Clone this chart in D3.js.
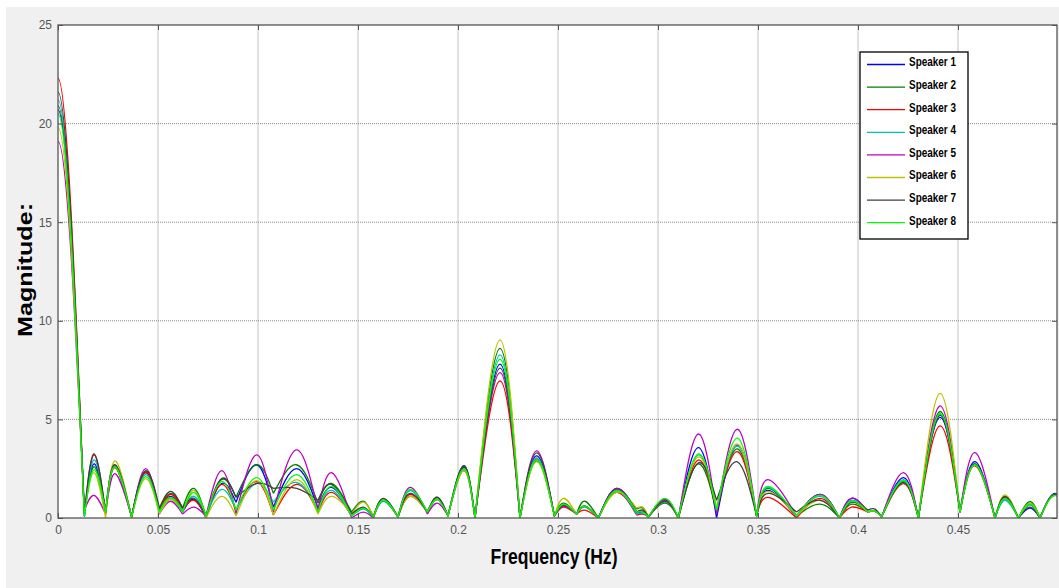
<!DOCTYPE html>
<html>
<head>
<meta charset="utf-8">
<script src="https://cdn.jsdelivr.net/npm/d3@7"></script>
<style>
  body { margin: 0; background: #fff; }
  svg { display: block; }
</style>
</head>
<body>
<div id="chart"></div>
<script>
// frequency points: index 0 = first value, then alternating valley / peak
const freq = [0, 0.0132, 0.018, 0.0238, 0.0285, 0.0368, 0.0438, 0.0507, 0.0563, 0.0623,
  0.068, 0.074, 0.0818, 0.089, 0.0993, 0.1077, 0.1193, 0.13, 0.1368, 0.1468,
  0.1527, 0.1577, 0.1627, 0.170, 0.176, 0.1847, 0.1897, 0.195, 0.203, 0.2085,
  0.221, 0.231, 0.2393, 0.2482, 0.2527, 0.2593, 0.2635, 0.2702, 0.2793, 0.2893,
  0.2925, 0.2952, 0.3035, 0.3102, 0.3202, 0.3293, 0.3397, 0.3493, 0.355, 0.3693,
  0.381, 0.3907, 0.3968, 0.405, 0.4085, 0.4118, 0.4227, 0.4302, 0.441, 0.451,
  0.4585, 0.4685, 0.4735, 0.4802, 0.486, 0.491, 0.4985];

const speaker1 = [20.7, 0.1, 2.75, 0.3, 2.6, 0.05, 2.3, 0.3, 1.1, 0.3,
  0.95, 0.0, 1.75, 0.8, 2.7, 0.55, 2.5, 0.5, 1.55, 0.2,
  0.5, 0.05, 0.95, 0.05, 1.4, 0.3, 0.95, 0.1, 2.55, 0.0,
  7.8, 0.0, 3.15, 0.1, 0.65, 0.2, 0.6, 0.0, 1.5, 0.2,
  0.3, 0.05, 0.9, 0.0, 3.57, 0.0, 3.7, 0.1, 1.4, 0.05,
  1.2, 0.0, 1.0, 0.3, 0.35, 0.05, 2.05, 0.0, 5.1, 0.3,
  2.86, 0.0, 1.0, 0.0, 0.5, 0.0, 1.25];
const speaker2 = [20.9, 0.2, 2.6, 0.3, 2.65, 0.05, 2.35, 0.4, 1.25, 0.5,
  1.5, 0.1, 1.95, 1.05, 2.7, 1.25, 2.7, 0.75, 1.75, 0.3,
  0.85, 0.05, 0.95, 0.05, 1.1, 0.3, 1.05, 0.1, 2.65, 0.0,
  8.6, 0.0, 2.9, 0.1, 0.75, 0.2, 0.85, 0.0, 1.35, 0.45,
  0.5, 0.05, 0.75, 0.0, 2.75, 0.3, 3.5, 0.1, 1.5, 0.1,
  0.7, 0.0, 0.7, 0.3, 0.35, 0.05, 1.85, 0.0, 5.4, 0.3,
  2.7, 0.0, 1.05, 0.0, 0.83, 0.0, 1.15];
const speaker3 = [22.3, 0.1, 3.2, 0.2, 2.55, 0.05, 2.3, 0.3, 1.2, 0.4,
  0.9, 0.1, 1.7, 0.4, 1.85, 0.15, 1.7, 0.3, 1.3, 0.1,
  0.5, 0.05, 0.9, 0.05, 1.2, 0.3, 0.95, 0.1, 2.5, 0.0,
  6.95, 0.0, 3.0, 0.1, 0.55, 0.2, 0.4, 0.0, 1.3, 0.15,
  0.2, 0.05, 0.8, 0.0, 2.94, 0.4, 3.36, 0.1, 1.05, 0.0,
  1.0, 0.0, 0.55, 0.3, 0.35, 0.05, 1.75, 0.0, 4.67, 0.3,
  2.65, 0.0, 1.05, 0.0, 0.7, 0.0, 1.2];
const speaker4 = [21.2, 0.05, 2.95, 0.3, 2.6, 0.05, 2.2, 0.3, 1.0, 0.4,
  1.1, 0.1, 1.45, 0.4, 1.75, 0.8, 1.8, 0.4, 1.4, 0.1,
  0.45, 0.05, 0.85, 0.05, 1.4, 0.3, 0.95, 0.1, 2.5, 0.0,
  8.27, 0.0, 3.05, 0.1, 0.65, 0.2, 0.55, 0.0, 1.35, 0.2,
  0.25, 0.05, 0.8, 0.0, 3.2, 0.4, 3.65, 0.1, 1.55, 0.1,
  1.1, 0.0, 0.9, 0.3, 0.35, 0.05, 1.95, 0.0, 5.25, 0.3,
  2.75, 0.0, 0.9, 0.0, 0.65, 0.0, 1.2];
const speaker5 = [19.1, 0.4, 1.15, 0.2, 2.25, 0.05, 2.5, 0.2, 0.85, 0.2,
  0.55, 0.1, 2.4, 0.2, 3.2, 0.3, 3.45, 0.4, 2.3, 0.0,
  0.3, 0.0, 0.9, 0.05, 1.55, 0.2, 0.75, 0.1, 2.4, 0.0,
  7.37, 0.0, 3.4, 0.1, 0.6, 0.2, 0.6, 0.0, 1.5, 0.3,
  0.35, 0.05, 0.95, 0.0, 4.26, 0.2, 4.5, 0.1, 1.95, 0.1,
  1.2, 0.0, 1.0, 0.3, 0.35, 0.05, 2.3, 0.0, 5.68, 0.3,
  3.31, 0.0, 1.0, 0.0, 0.7, 0.0, 1.2];
const speaker6 = [19.8, 0.2, 2.3, 0.0, 2.9, 0.05, 2.0, 0.2, 0.95, 0.3,
  1.4, 0.0, 1.1, 0.1, 1.9, 0.15, 1.95, 0.2, 1.1, 0.2,
  0.8, 0.05, 0.95, 0.05, 1.1, 0.3, 1.0, 0.1, 2.4, 0.0,
  9.03, 0.0, 2.85, 0.1, 1.0, 0.2, 0.6, 0.0, 1.3, 0.5,
  0.55, 0.05, 0.85, 0.0, 3.1, 0.5, 3.75, 0.1, 1.35, 0.1,
  0.9, 0.0, 0.8, 0.3, 0.35, 0.05, 1.8, 0.0, 6.32, 0.3,
  2.7, 0.0, 1.17, 0.0, 0.75, 0.0, 1.2];
const speaker7 = [21.6, 0.2, 3.25, 0.3, 2.7, 0.05, 2.4, 0.5, 1.35, 0.5,
  1.0, 0.1, 2.0, 1.05, 1.75, 1.5, 1.5, 0.9, 1.7, 0.2,
  0.55, 0.05, 1.0, 0.05, 1.25, 0.3, 1.05, 0.1, 2.65, 0.0,
  7.6, 0.0, 3.3, 0.1, 0.65, 0.2, 0.6, 0.0, 1.45, 0.3,
  0.4, 0.05, 0.85, 0.0, 2.8, 0.9, 2.85, 0.1, 1.25, 0.3,
  0.9, 0.0, 0.8, 0.4, 0.45, 0.05, 1.8, 0.0, 5.2, 0.3,
  2.75, 0.0, 1.1, 0.0, 0.55, 0.0, 1.2];
const speaker8 = [20.5, 0.1, 2.45, 0.3, 2.6, 0.05, 2.1, 0.3, 1.05, 0.3,
  1.3, 0.1, 1.85, 0.4, 2.05, 0.4, 2.2, 0.3, 1.6, 0.1,
  0.5, 0.05, 0.9, 0.05, 1.45, 0.3, 0.95, 0.1, 2.5, 0.0,
  8.05, 0.0, 2.95, 0.1, 0.7, 0.2, 0.6, 0.0, 1.4, 0.3,
  0.3, 0.05, 1.0, 0.0, 3.25, 0.4, 4.05, 0.1, 1.6, 0.1,
  1.15, 0.0, 0.85, 0.3, 0.35, 0.05, 1.9, 0.0, 5.3, 0.3,
  2.7, 0.0, 1.0, 0.0, 0.7, 0.0, 1.15];

const speakerNames = ['Speaker 1', 'Speaker 2', 'Speaker 3', 'Speaker 4',
  'Speaker 5', 'Speaker 6', 'Speaker 7', 'Speaker 8'];
const speakerColors = ['#0000ff', '#007f00', '#ff0000', '#00bfbf',
  '#bf00bf', '#bfbf00', '#404040', '#00ff00'];
const xTicks = [0, 0.05, 0.1, 0.15, 0.2, 0.25, 0.3, 0.35, 0.4, 0.45];
const yTicks = [0, 5, 10, 15, 20, 25];

const series = [speaker1, speaker2, speaker3, speaker4, speaker5, speaker6, speaker7, speaker8];

const width = 1059;
const height = 588;
const plot = { left: 58, right: 1057, top: 25, bottom: 518 };

const svg = d3.select('#chart')
  .append('svg')
  .attr('width', width)
  .attr('height', height);

// figure background
svg.append('rect')
  .attr('x', 6).attr('y', 7)
  .attr('width', width - 6).attr('height', height - 7)
  .attr('fill', '#f0f0f0');

const xScale = d3.scaleLinear().domain([0, 0.4995]).range([plot.left, plot.right]);
const yScale = d3.scaleLinear().domain([0, 25]).range([plot.bottom, plot.top]);

svg.append('rect')
  .attr('x', plot.left).attr('y', plot.top)
  .attr('width', plot.right - plot.left).attr('height', plot.bottom - plot.top)
  .attr('fill', '#fff');

// grid
svg.append('g')
  .selectAll('line')
  .data(xTicks.slice(1))
  .enter()
  .append('line')
  .attr('x1', d => xScale(d)).attr('x2', d => xScale(d))
  .attr('y1', plot.top).attr('y2', plot.bottom)
  .attr('stroke', '#c4c4c4')
  .attr('stroke-width', 1);

svg.append('g')
  .selectAll('line')
  .data(yTicks.slice(1, -1))
  .enter()
  .append('line')
  .attr('x1', plot.left).attr('x2', plot.right)
  .attr('y1', d => yScale(d)).attr('y2', d => yScale(d))
  .attr('stroke', '#8a8a8a')
  .attr('stroke-width', 1)
  .attr('stroke-dasharray', '1,1');

svg.append('clipPath')
  .attr('id', 'plotClip')
  .append('rect')
  .attr('x', plot.left).attr('y', plot.top)
  .attr('width', plot.right - plot.left).attr('height', plot.bottom - plot.top);

// each lobe is drawn valley -> peak -> valley with a natural spline,
// so the valleys keep their sharp corners
const lobe = d3.line()
  .x(d => xScale(d[0]))
  .y(d => yScale(d[1]))
  .curve(d3.curveNatural);

function spectrumPath(vals) {
  let path = '';
  const n = freq.length;
  for (let k = 0; k < n; k += 2) {
    const pts = [];
    if (k > 0) pts.push([freq[k - 1], vals[k - 1]]);
    else pts.push([-freq[1], vals[1]]);
    pts.push([freq[k], vals[k]]);
    if (k < n - 1) pts.push([freq[k + 1], vals[k + 1]]);
    else pts.push([2 * freq[k] - freq[k - 1], vals[k - 1]]);
    path += lobe(pts);
  }
  return path;
}

svg.append('g')
  .attr('clip-path', 'url(#plotClip)')
  .selectAll('path')
  .data(series)
  .enter()
  .append('path')
  .attr('d', d => spectrumPath(d))
  .attr('fill', 'none')
  .attr('stroke', (d, i) => speakerColors[i])
  .attr('stroke-width', 1.3);

// axes
const tickFont = '"Liberation Sans", Arial, sans-serif';

const xAxis = svg.append('g')
  .attr('transform', `translate(0, ${plot.bottom})`)
  .call(d3.axisBottom(xScale).tickValues(xTicks).tickFormat(d => String(d)).tickSize(-5).tickPadding(7));
const xAxisTop = svg.append('g')
  .attr('transform', `translate(0, ${plot.top})`)
  .call(d3.axisTop(xScale).tickValues(xTicks).tickFormat('').tickSize(-5));
const yAxis = svg.append('g')
  .attr('transform', `translate(${plot.left}, 0)`)
  .call(d3.axisLeft(yScale).tickValues(yTicks).tickSize(-5).tickPadding(6));
const yAxisRight = svg.append('g')
  .attr('transform', `translate(${plot.right}, 0)`)
  .call(d3.axisRight(yScale).tickValues(yTicks).tickFormat('').tickSize(-5));

[xAxis, xAxisTop, yAxis, yAxisRight].forEach(g => {
  g.select('.domain').remove();
  g.selectAll('.tick line').attr('stroke', '#555');
  g.selectAll('.tick text')
    .attr('fill', '#555')
    .style('font-family', tickFont)
    .style('font-size', '12px');
});

// frame
svg.append('rect')
  .attr('x', plot.left).attr('y', plot.top)
  .attr('width', plot.right - plot.left).attr('height', plot.bottom - plot.top)
  .attr('fill', 'none')
  .attr('stroke', '#555')
  .attr('stroke-width', 1.3);

// axis titles
svg.append('text')
  .attr('x', 554)
  .attr('y', 564)
  .attr('text-anchor', 'middle')
  .attr('textLength', 127)
  .attr('lengthAdjust', 'spacingAndGlyphs')
  .style('font-family', tickFont)
  .style('font-weight', 'bold')
  .style('font-size', '22px')
  .attr('fill', '#000')
  .text('Frequency (Hz)');

svg.append('text')
  .attr('transform', 'translate(32, 270) rotate(-90)')
  .attr('text-anchor', 'middle')
  .attr('textLength', 134)
  .attr('lengthAdjust', 'spacingAndGlyphs')
  .style('font-family', tickFont)
  .style('font-weight', 'bold')
  .style('font-size', '21px')
  .attr('fill', '#000')
  .text('Magnitude:');

// legend
const legend = svg.append('g').attr('transform', 'translate(860, 52)');
legend.append('rect')
  .attr('width', 108).attr('height', 187)
  .attr('fill', '#fff')
  .attr('stroke', '#000')
  .attr('stroke-width', 1.3);

const rows = legend.selectAll('g.row')
  .data(speakerNames)
  .enter()
  .append('g')
  .attr('class', 'row')
  .attr('transform', (d, i) => `translate(0, ${12.5 + i * 22.6})`);

rows.append('line')
  .attr('x1', 7).attr('x2', 45)
  .attr('stroke', (d, i) => speakerColors[i])
  .attr('stroke-width', 1.3);

rows.append('text')
  .attr('x', 49)
  .attr('y', 0)
  .attr('dy', '0.15em')
  .attr('textLength', 47)
  .attr('lengthAdjust', 'spacingAndGlyphs')
  .style('font-family', tickFont)
  .style('font-weight', 'bold')
  .style('font-size', '13px')
  .attr('fill', '#000')
  .text(d => d);
</script>
</body>
</html>
